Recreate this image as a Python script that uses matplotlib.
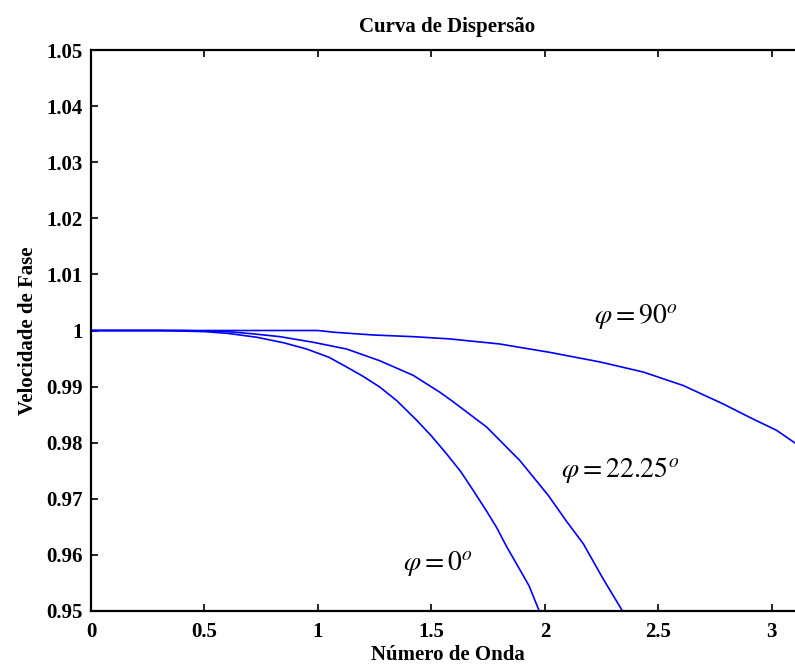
import numpy as np
import matplotlib
matplotlib.use("Agg")
import matplotlib.pyplot as plt

plt.rcParams['font.family'] = ['Liberation Serif', 'DejaVu Serif']
plt.rcParams['mathtext.fontset'] = 'stix'

# curva phi = 0
x_phi0 = [0, 0.3, 0.5, 0.6, 0.73, 0.85, 0.95, 1.05, 1.126, 1.2, 1.273, 1.347,
          1.435, 1.5, 1.567, 1.63, 1.684, 1.74, 1.787, 1.831, 1.875, 1.93, 1.975]
y_phi0 = [1.0, 1.0, 0.9998, 0.9995, 0.9988, 0.9978, 0.9967, 0.9952, 0.9935, 0.9918,
          0.9899, 0.9875, 0.9840, 0.9812, 0.9780, 0.9748, 0.9715, 0.9680, 0.9649,
          0.9615, 0.9584, 0.9545, 0.95]

# curva phi = 22.25
x_phi22 = [0, 0.4, 0.6, 0.715, 0.833, 0.979, 1.126, 1.273, 1.42, 1.537, 1.589,
           1.743, 1.89, 2.015, 2.095, 2.169, 2.257, 2.342]
y_phi22 = [1.0, 1.0, 0.9998, 0.9994, 0.9989, 0.9979, 0.9967, 0.9946, 0.9920, 0.9890,
           0.9875, 0.9828, 0.9768, 0.9706, 0.9660, 0.9620, 0.9557, 0.95]

# curva phi = 90
x_phi90 = [0, 0.5, 1.0, 1.067, 1.243, 1.42, 1.581, 1.80, 2.022, 2.242, 2.433,
           2.609, 2.786, 2.903, 3.021, 3.1, 3.1416]
y_phi90 = [1.0, 1.0, 1.0, 0.9997, 0.9992, 0.9989, 0.9985, 0.9976, 0.9961, 0.9944,
           0.9926, 0.9902, 0.9869, 0.9845, 0.9822, 0.9800, 0.9790]

xticks = [0, 0.5, 1, 1.5, 2, 2.5, 3]
xtick_labels = ['0', '0.5', '1', '1.5', '2', '2.5', '3']
yticks = [0.95, 0.96, 0.97, 0.98, 0.99, 1.0, 1.01, 1.02, 1.03, 1.04, 1.05]
ytick_labels = ['0.95', '0.96', '0.97', '0.98', '0.99', '1',
                '1.01', '1.02', '1.03', '1.04', '1.05']

fig = plt.figure(figsize=(7.95, 6.69), dpi=100)
ax = fig.add_axes([91/795, 1 - 611/669, (804 - 91)/795, (611 - 50)/669])

cor = (0, 0, 1)
ax.plot(x_phi0, y_phi0, color=cor, lw=1.2)
ax.plot(x_phi22, y_phi22, color=cor, lw=1.2)
ax.plot(x_phi90, y_phi90, color=cor, lw=1.2)

ax.set_xlim(0, np.pi)
ax.set_ylim(0.95, 1.05)
ax.set_xticks(xticks)
ax.set_xticklabels(xtick_labels)
ax.set_yticks(yticks)
ax.set_yticklabels(ytick_labels)
ax.tick_params(direction='in', length=5, width=1.2, top=True, right=False,
               labelsize=15, pad=6)
ax.tick_params(axis='x', pad=8)
for lab in ax.get_xticklabels() + ax.get_yticklabels():
    lab.set_fontweight('bold')
for s in ['left', 'bottom', 'top']:
    ax.spines[s].set_linewidth(1.6)
ax.spines['right'].set_visible(False)

ax.set_title('Curva de Dispersão', fontsize=15, fontweight='bold', pad=13)
ax.set_xlabel('Número de Onda', fontsize=15, fontweight='bold', labelpad=2)
ax.set_ylabel('Velocidade de Fase', fontsize=15, fontweight='bold', labelpad=6)

ax.text(2.40, 1.0025, r'$\varphi = 90^{o}$', fontsize=20, ha='center', va='center')
ax.text(2.33, 0.9752, r'$\varphi = 22.25^{o}$', fontsize=20, ha='center', va='center')
ax.text(1.53, 0.9584, r'$\varphi = 0^{o}$', fontsize=20, ha='center', va='center')

fig.savefig('out.png', dpi=100)
